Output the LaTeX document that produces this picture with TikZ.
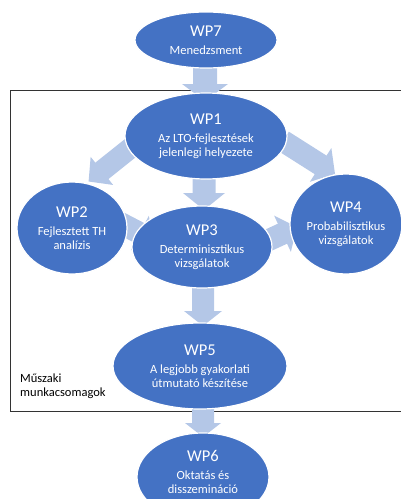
\documentclass[tikz,border=0pt]{standalone}
\usepackage{fontspec}
\setmainfont{Carlito}
\usetikzlibrary{calc,shapes.geometric}
\definecolor{wpblue}{HTML}{4472C4}
\definecolor{arrblue}{HTML}{B4C7E7}
\newcommand{\blockarr}[5]{%
  \coordinate (hb) at ($(#2)!#5pt!(#1)$);
  \fill[arrblue] ($(#1)!#3pt!90:(#2)$) -- ($(hb)!#3pt!-90:(#1)$) -- ($(hb)!#4pt!-90:(#1)$) -- (#2)
    -- ($(hb)!#4pt!90:(#1)$) -- ($(hb)!#3pt!90:(#1)$) -- ($(#1)!#3pt!-90:(#2)$) -- cycle;}
\tikzset{
  wp/.style={ellipse, fill=wpblue, draw=white, line width=1.2pt, text=white, align=center,
    inner sep=0pt, font=\fontsize{12.5}{14}\selectfont},
  wptext/.style={text=white, align=center, inner sep=0pt, font=\fontsize{12.5}{14}\selectfont},
  frame/.style={draw=black!80, line width=1pt}
}
\newcommand{\wpt}[1]{{\fontsize{16.5}{18}\selectfont #1}\\[4pt]}
\begin{document}
\begin{tikzpicture}[x=1pt,y=-1pt]
\useasboundingbox (0,0) rectangle (401,499);
\clip (0,0) rectangle (401,499);
% frame
\draw[frame] (420,90) -- (10,90) -- (10,411) -- (420,411);
\node[anchor=west, align=left, font=\fontsize{12.5}{14}\selectfont, inner sep=0pt] (lbl) at (20,386) {Műszaki\\munkacsomagok};
% arrow endpoints
\coordinate (a1s) at (205,60);  \coordinate (a1t) at (205,101);
\coordinate (a2s) at (204,165); \coordinate (a2t) at (204,210);
\coordinate (a3s) at (203,280); \coordinate (a3t) at (203,326);
\coordinate (a4s) at (203,400); \coordinate (a4t) at (203,437);
\coordinate (a5s) at (133,146); \coordinate (a5t) at (88.6,181.5);
\coordinate (a6s) at (283,141); \coordinate (a6t) at (335,174);
\coordinate (a7s) at (103,214); \coordinate (a7t) at (154,240.5);
\coordinate (a8s) at (245,251); \coordinate (a8t) at (297,227);
\blockarr{a1s}{a1t}{12}{23}{17}
\blockarr{a2s}{a2t}{11.5}{21}{17}
\blockarr{a3s}{a3t}{11}{19}{15}
\blockarr{a4s}{a4t}{11}{18}{14}
\blockarr{a5s}{a5t}{10.5}{18}{17}
\blockarr{a6s}{a6t}{11}{20}{17}
\blockarr{a7s}{a7t}{11}{19.5}{16}
\blockarr{a8s}{a8t}{11}{20}{16}
% ellipses
\node[wp, minimum width=142pt, minimum height=56pt] (wp7) at (206,40) {\wpt{WP7}Menedzsment};
\node[wp, minimum width=162pt, minimum height=86pt] (wp1) at (206,136) {\wpt{WP1}Az LTO-fejlesztések\\jelenlegi helyezete};
\node[wp, minimum width=110pt, minimum height=92pt] (wp2) at (72,228) {\wpt{WP2}Fejlesztett TH\\analízis};
\node[wp, minimum width=140pt, minimum height=82pt] (wp3) at (202,247) {\wpt{WP3}Determinisztikus\\vizsgálatok};
\node[wp, minimum width=112pt, minimum height=100pt] (wp4) at (346,224) {\wpt{WP4}Probabilisztikus\\vizsgálatok};
\node[wp, minimum width=174pt, minimum height=86pt] (wp5) at (200,366) {\wpt{WP5}A legjobb gyakorlati\\útmutató készítése};
\node[wp, minimum width=132pt, minimum height=88pt] (wp6) at (203,477) {};
\node[wptext] (wp6t) at ($(wp6.center)+(0,-5.5)$) {\wpt{WP6}Oktatás és\\disszemináció};
\end{tikzpicture}
\end{document}
